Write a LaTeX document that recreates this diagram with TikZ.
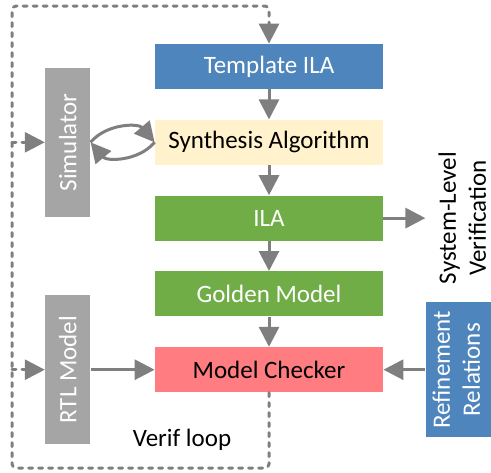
\documentclass[tikz,border=0pt]{standalone}
\usepackage{fontspec}
\setmainfont{Carlito}
\usepackage{tikz}
\usetikzlibrary{positioning,arrows.meta}
\usepackage{xcolor}
\definecolor{ilablue}{HTML}{4F85BD}
\definecolor{synyellow}{HTML}{FFF2CC}
\definecolor{ilagreen}{HTML}{70AD47}
\definecolor{mcpink}{HTML}{FF7C80}
\definecolor{sidegrey}{HTML}{A5A5A5}
\definecolor{arrowgrey}{HTML}{7F7F7F}

\begin{document}
\begin{tikzpicture}[x=0.5pt,y=-0.5pt,node distance=15pt,
    font=\fontsize{12.5}{15}\selectfont,
    flow/.style={rectangle,draw=none,minimum width=114pt,minimum height=22.5pt,inner sep=0pt},
    side/.style={rectangle,draw=none,fill=sidegrey,text=white,minimum width=22.5pt,minimum height=74.5pt,inner sep=0pt},
    arr/.style={draw=arrowgrey,line width=1.5pt,-{Triangle[width=10pt,length=10pt]}},
    loopline/.style={draw=arrowgrey,line width=1.5pt,line cap=round,dash pattern=on 2pt off 3pt,rounded corners=2pt}]
    \useasboundingbox (0,0) rectangle (491,472);

    \node (tmpl) [flow,fill=ilablue,text=white] at (269,66.5) {Template ILA};
    \node (synth) [flow,fill=synyellow,below=of tmpl] {Synthesis Algorithm};
    \node (ila) [flow,fill=ilagreen,text=white,below=of synth] {ILA};
    \node (golden) [flow,fill=ilagreen,text=white,below=of ila] {Golden Model};
    \node (mc) [flow,fill=mcpink,below=of golden] {Model Checker};

    \node (sim) [side,left=32pt of synth] {\rotatebox{90}{Simulator}};
    \node (rtl) [side,left=32pt of mc] {\rotatebox{90}{RTL Model}};
    \node (refine) [rectangle,draw=none,fill=ilablue,text=white,minimum width=33pt,minimum height=67.5pt,inner sep=0pt,right=21pt of mc]
        {\rotatebox{90}{\begin{tabular}{@{}c@{}}Refinement\\Relations\end{tabular}}};
    \node (sysver) [draw=none,inner sep=4.5pt,right=21pt of ila,anchor=west]
        {\rotatebox{90}{\begin{tabular}{@{}c@{}}System-Level\\Verification\end{tabular}}};

    \node (verif) [draw=none] at (182,440) {Verif loop};

    \coordinate (loopbl) at (12,468);
    \coordinate (looptop) at (269,6);

    % Arrows
    \draw[arr] (tmpl.south) to (synth.north);
    \draw[arr] (synth.south) to (ila.north);
    \draw[arr] (ila.south) to (golden.north);
    \draw[arr] (golden.south) to (mc.north);
    \draw[arr] (ila.east) to (sysver.west);
    \draw[arr] (rtl.east) to (mc.west);
    \draw[arr] (refine.west) to (mc.east);
    \draw[arr] (sim.east) to[bend left=50] (synth.west);
    \draw[arr] (synth.west) to[bend left=50] (sim.east);

    % Verif loop
    \draw[loopline,-{Triangle[width=10pt,length=10pt]}] (mc.south) |- (loopbl) |- (looptop) -- (tmpl.north);
    \draw[loopline,-{Triangle[width=10pt,length=10pt]}] (loopbl |- sim.west) -- (sim.west);
    \draw[loopline,-{Triangle[width=10pt,length=10pt]}] (loopbl |- rtl.west) -- (rtl.west);

  \end{tikzpicture}
\end{document}
